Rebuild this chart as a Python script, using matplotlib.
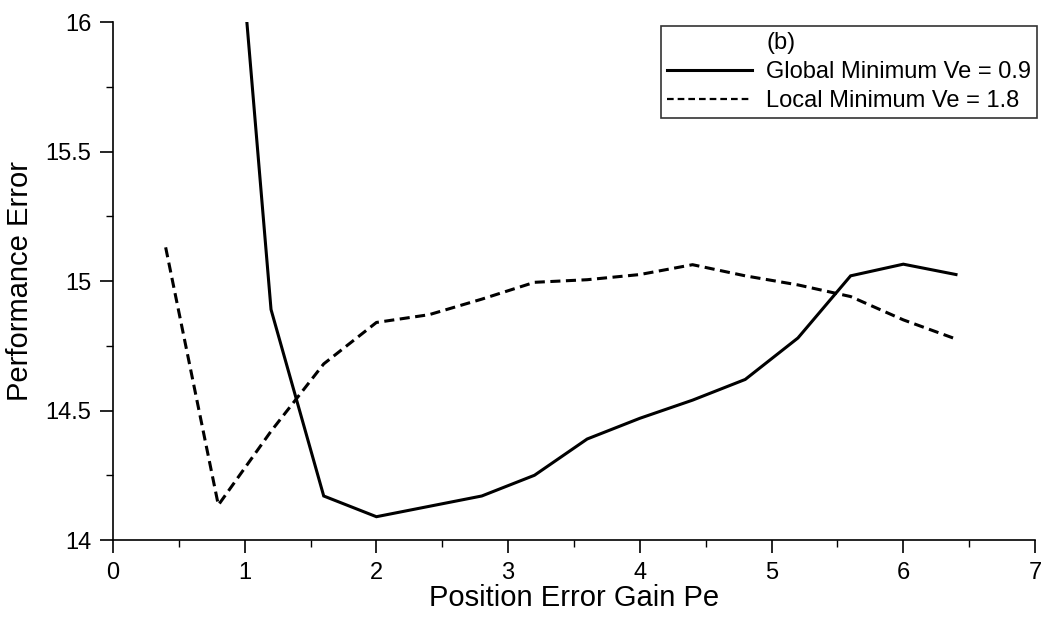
import matplotlib
matplotlib.use("Agg")
import matplotlib.pyplot as plt
from matplotlib.lines import Line2D
from matplotlib.ticker import MultipleLocator

plt.rcParams['font.family'] = ['Liberation Sans', 'DejaVu Sans']

# Data
x_global = [1.0, 1.2, 1.6, 2.0, 2.4, 2.8, 3.2, 3.6, 4.0, 4.4, 4.8, 5.2, 5.6, 6.0, 6.4]
y_global = [16.1, 14.89, 14.17, 14.09, 14.13, 14.17, 14.25, 14.39, 14.47, 14.54, 14.62, 14.78, 15.02, 15.065, 15.025]

x_local = [0.4, 0.8, 1.2, 1.6, 2.0, 2.4, 2.8, 3.2, 3.6, 4.0, 4.4, 4.8, 5.2, 5.6, 6.0, 6.4]
y_local = [15.13, 14.135, 14.42, 14.68, 14.84, 14.87, 14.93, 14.995, 15.005, 15.025, 15.063, 15.02, 14.985, 14.94, 14.85, 14.776]

legend_title = "(b)"
label_global = "Global Minimum Ve = 0.9"
label_local = "Local Minimum Ve = 1.8"
xlabel = "Position Error Gain Pe"
ylabel = "Performance Error"
yticks = [14, 14.5, 15, 15.5, 16]
yticklabels = ["14", "14.5", "15", "15.5", "16"]
xticks = [0, 1, 2, 3, 4, 5, 6, 7]

fig = plt.figure(figsize=(10.44, 6.2), dpi=100)
ax = fig.add_axes([0.1082, 0.129, 0.8832, 0.8355])

lw = 2.2
ax.plot(x_global, y_global, color='black', lw=lw, solid_joinstyle='miter', label=label_global)
ax.plot(x_local, y_local, color='black', lw=lw, dashes=(3.3, 1.8), label=label_local)

ax.set_xlim(0, 7)
ax.set_ylim(14, 16)
ax.set_xticks(xticks)
ax.set_yticks(yticks)
ax.set_yticklabels(yticklabels)
ax.xaxis.set_minor_locator(MultipleLocator(0.5))
ax.yaxis.set_minor_locator(MultipleLocator(0.25))

for s in ['top', 'right']:
    ax.spines[s].set_visible(False)
for s in ['left', 'bottom']:
    ax.spines[s].set_linewidth(1.2)

ax.tick_params(which='major', direction='out', length=9.5, width=1.2, labelsize=17, pad=6)
ax.tick_params(which='minor', direction='out', length=5, width=1.0)

ax.set_xlabel(xlabel, fontsize=21, labelpad=0)
ax.set_ylabel(ylabel, fontsize=21, labelpad=8)

blank = Line2D([], [], color='none')
h1 = Line2D([], [], color='black', lw=lw)
h2 = Line2D([], [], color='black', lw=1.6, dashes=(3, 1.8))
leg = fig.legend([blank, h1, h2], [legend_title, label_global, label_local],
                 loc='upper right', bbox_to_anchor=(0.9933, 0.958),
                 fontsize=17, frameon=True, fancybox=False, borderaxespad=0,
                 handlelength=3.6, handletextpad=0.6, labelspacing=0.3,
                 borderpad=0.25)
leg.get_frame().set_edgecolor('black')
leg.get_frame().set_linewidth(1.2)

fig.savefig("out.png", dpi=100)
